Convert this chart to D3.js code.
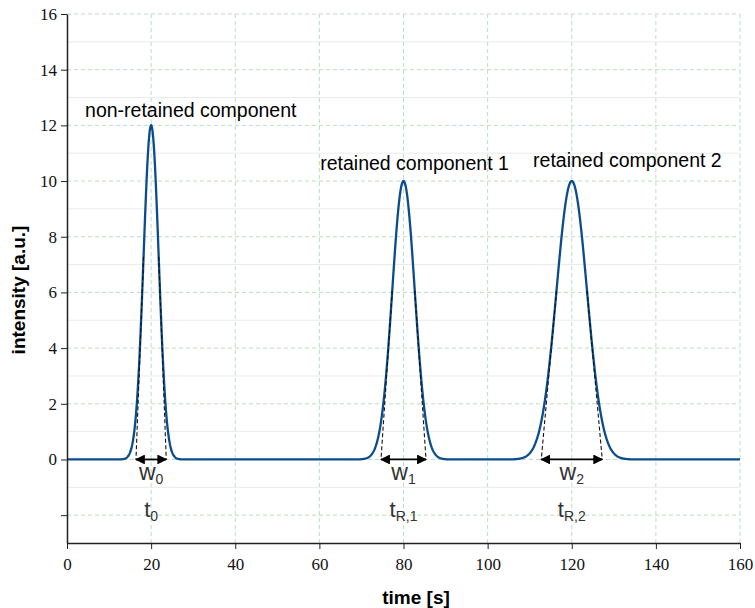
<!DOCTYPE html>
<html>
<head>
<meta charset="utf-8">
<script src="https://cdn.jsdelivr.net/npm/d3@7"></script>
<style>
body{margin:0;background:#fff;}
svg{display:block;}
</style>
</head>
<body>
<svg id="chart" width="755" height="608"></svg>
<script>
// ---- data ----
const peakNames = ["non-retained component", "retained component 1", "retained component 2"];
const peakTimes = [20, 80, 120];          // retention times [s]
const peakHeights = [12, 10, 10];         // intensity [a.u.]
const peakBaseWidths = [7.2, 10.7, 14.5]; // tangent base widths w [s]
const widthLabels = ["0", "1", "2"];
const timeLabelSubs = ["0", "R,1", "R,2"];
const labelStartTimes = [4.3, 60.2, 110.8]; // label anchor (time units)
const labelHeights = [12.3, 10.4, 10.5];     // label baseline (intensity units)
const xTicks = [0, 20, 40, 60, 80, 100, 120, 140, 160];
const yTicks = [-2, 0, 2, 4, 6, 8, 10, 12, 14, 16];
const yMinorTicks = [-1, 1, 3, 5, 7, 9, 11, 13, 15];

const SANS = "'Liberation Sans', Arial, sans-serif";
const SERIF = "'Liberation Serif', 'Times New Roman', serif";

const svg = d3.select("#chart");
const x = d3.scaleLinear().domain([0, 160]).range([67, 740]);
const y = d3.scaleLinear().domain([-3, 16]).range([543, 14]);

// minor grid
svg.append("g").selectAll("line").data(yMinorTicks).join("line")
  .attr("x1", x(0)).attr("x2", x(160))
  .attr("y1", d => y(d)).attr("y2", d => y(d))
  .attr("stroke", "#ebebeb").attr("stroke-width", 1);
// major grid
svg.append("g").selectAll("line").data(yTicks).join("line")
  .attr("x1", x(0)).attr("x2", x(160))
  .attr("y1", d => y(d)).attr("y2", d => y(d))
  .attr("stroke", "#b9dfc4").attr("stroke-width", 1).attr("stroke-dasharray", "4,3");
svg.append("g").selectAll("line").data(xTicks.filter(d => d > 0)).join("line")
  .attr("x1", d => x(d)).attr("x2", d => x(d))
  .attr("y1", y(16)).attr("y2", y(-3))
  .attr("stroke", "#b9dfc4").attr("stroke-width", 1).attr("stroke-dasharray", "4,3");

// signal: sum of gaussian peaks with sigma = w/4
const sig = peakBaseWidths.map(w => w / 4);
function signal(t) {
  let s = 0;
  for (let i = 0; i < peakTimes.length; i++) {
    s += peakHeights[i] * Math.exp(-0.5 * Math.pow((t - peakTimes[i]) / sig[i], 2));
  }
  return s;
}
const samples = d3.range(0, 160.001, 0.1).map(t => [t, signal(t)]);
svg.append("path").datum(samples)
  .attr("fill", "none").attr("stroke", "#0b4c8c").attr("stroke-width", 2.3)
  .attr("d", d3.line().x(d => x(d[0])).y(d => y(d[1])));

// tangents (dashed) from inflection points to baseline
const ann = svg.append("g");
peakTimes.forEach((t0, i) => {
  const s = sig[i], hInf = peakHeights[i] * Math.exp(-0.5);
  [[t0 - s, t0 - 2 * s], [t0 + s, t0 + 2 * s]].forEach(([ti, tb]) => {
    ann.append("line")
      .attr("x1", x(ti)).attr("y1", y(hInf)).attr("x2", x(tb)).attr("y2", y(0))
      .attr("stroke", "#111").attr("stroke-width", 1.1).attr("stroke-dasharray", "4,2.5");
  });
});

// arrow markers
const defs = svg.append("defs");
defs.append("marker").attr("id", "ah").attr("viewBox", "0 0 10 10")
  .attr("refX", 9).attr("refY", 5).attr("markerWidth", 5.5).attr("markerHeight", 5.5)
  .attr("orient", "auto-start-reverse").attr("markerUnits", "strokeWidth")
  .append("path").attr("d", "M0,0 L10,5 L0,10 Z").attr("fill", "#000");

peakTimes.forEach((t0, i) => {
  const s = sig[i];
  ann.append("line")
    .attr("x1", x(t0 - 2 * s)).attr("x2", x(t0 + 2 * s))
    .attr("y1", y(0)).attr("y2", y(0))
    .attr("stroke", "#000").attr("stroke-width", 1.8)
    .attr("marker-start", "url(#ah)").attr("marker-end", "url(#ah)");
  const wt = ann.append("text").attr("x", x(t0)).attr("y", 480)
    .attr("text-anchor", "middle").attr("fill", "#333")
    .style("font-family", SANS).style("font-size", "23px");
  wt.append("tspan").text("w");
  wt.append("tspan").style("font-size", "14px").attr("dy", 4).text(widthLabels[i]);
  const tt = ann.append("text").attr("x", x(t0)).attr("y", 517)
    .attr("text-anchor", "middle").attr("fill", "#333")
    .style("font-family", SANS).style("font-size", "22px");
  tt.append("tspan").text("t");
  tt.append("tspan").style("font-size", "14px").attr("dy", 4).text(timeLabelSubs[i]);
  svg.append("text").attr("x", x(labelStartTimes[i])).attr("y", y(labelHeights[i]))
    .attr("fill", "#000").style("font-family", SANS)
    .style("font-size", "19.5px").text(peakNames[i]);
});

// axes
const xAxisG = svg.append("g").attr("transform", `translate(0,${y(-3)})`);
xAxisG.call(d3.axisBottom(x).tickValues(xTicks).tickSize(6).tickSizeOuter(0));
const yAxisG = svg.append("g").attr("transform", `translate(${x(0)},0)`);
yAxisG.call(d3.axisLeft(y).tickValues(yTicks).tickSize(6).tickSizeOuter(0)
    .tickFormat(d => d < 0 ? "" : String(d)));

for (const g of [xAxisG, yAxisG]) {
  g.attr("font-family", null).attr("font-size", null);
  g.select("path.domain").attr("class", "axline")
    .attr("stroke", "#222").attr("stroke-width", 1.5);
  g.selectAll("g.tick").attr("class", "tk");
  g.selectAll("g.tk line").attr("stroke", "#222").attr("stroke-width", 1);
  g.selectAll("g.tk text").attr("class", "tklabel")
    .style("font-family", SERIF).style("font-size", "17px").attr("fill", "#111");
}
xAxisG.selectAll("text.tklabel").attr("dy", "1.05em");
yAxisG.selectAll("text.tklabel").attr("x", -10);

svg.append("text").attr("x", 416).attr("y", 604).attr("text-anchor", "middle")
  .style("font-family", SANS).style("font-weight", "bold")
  .style("font-size", "19px").text("time [s]");
svg.append("text").attr("transform", "translate(25,290) rotate(-90)")
  .attr("text-anchor", "middle")
  .style("font-family", SANS).style("font-weight", "bold")
  .style("font-size", "19px").text("intensity [a.u.]");
</script>
</body>
</html>
